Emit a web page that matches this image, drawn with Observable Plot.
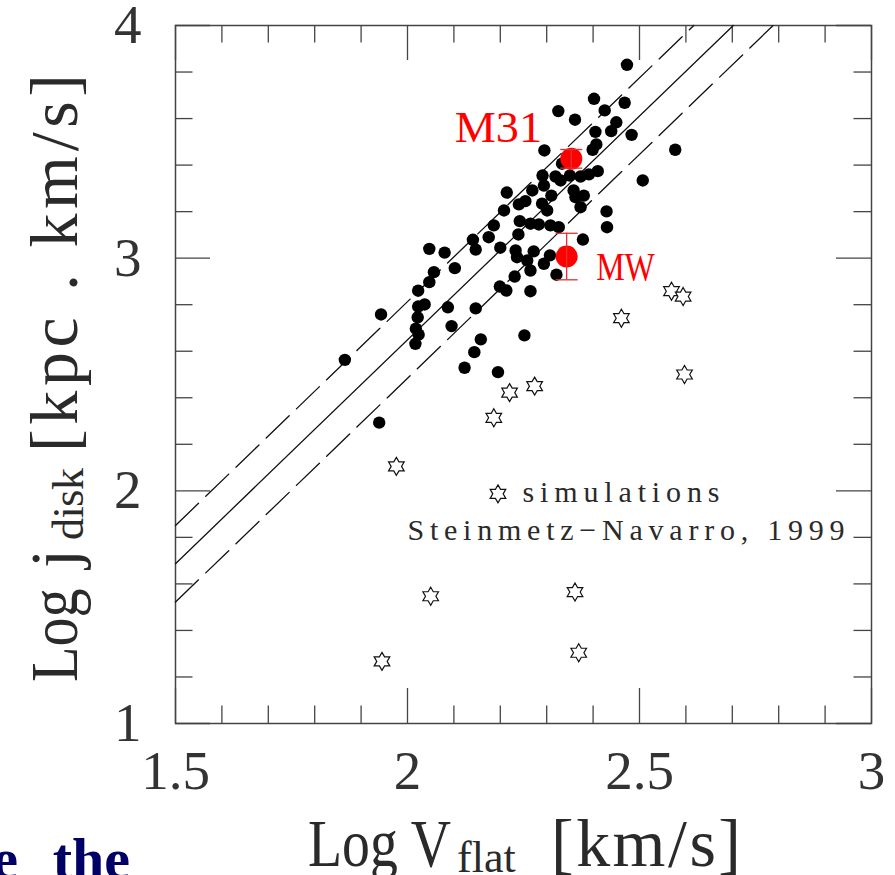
<!DOCTYPE html>
<html>
<head>
<meta charset="utf-8">
<script src="https://cdn.jsdelivr.net/npm/d3@7"></script>
<script src="https://cdn.jsdelivr.net/npm/@observablehq/plot@0.6"></script>
<style>
  html, body { margin: 0; padding: 0; background: #fff; }
  #chart svg { display: block; }
</style>
</head>
<body>
<div id="chart"></div>
<script>
// ---------------- data ----------------
const galaxyLogV = [
  2.473, 2.402, 2.468, 2.325, 2.361, 2.425, 2.450, 2.405, 2.439, 2.483,
  2.407, 2.399, 2.577, 2.295, 2.333, 2.291, 2.319, 2.330, 2.350, 2.373,
  2.391, 2.410, 2.507, 2.294, 2.269, 2.214, 2.310, 2.358, 2.362, 2.380,
  2.373, 2.429, 2.240, 2.254, 2.208, 2.290, 2.301, 2.186, 2.242, 2.265,
  2.283, 2.308, 2.326, 2.430, 2.239, 2.233, 2.236, 2.258, 2.272, 2.265,
  2.294, 2.307, 2.321, 2.231, 2.265, 2.252, 2.378, 2.175, 2.141, 2.147,
  2.200, 2.047, 2.080, 2.102, 2.057, 2.047, 2.023, 2.037, 2.023, 2.022,
  1.943, 2.087, 2.147, 2.199, 2.213, 2.018, 2.024, 2.017, 2.095, 2.158,
  2.144, 2.123, 2.195, 1.865, 1.939
];
const galaxyLogJ = [
  3.831, 3.685, 3.668, 3.632, 3.595, 3.635, 3.584, 3.543, 3.546, 3.530,
  3.489, 3.466, 3.466, 3.463, 3.406, 3.355, 3.351, 3.334, 3.355, 3.351,
  3.360, 3.374, 3.334, 3.312, 3.291, 3.282, 3.269, 3.291, 3.262, 3.269,
  3.219, 3.201, 3.231, 3.245, 3.205, 3.234, 3.205, 3.141, 3.159, 3.148,
  3.145, 3.141, 3.133, 3.133, 3.102, 3.033, 3.004, 2.990, 3.029, 2.947,
  2.976, 3.012, 2.929, 2.921, 2.858, 2.668, 3.080, 3.090, 3.079, 3.037,
  3.045, 3.040, 3.024, 2.957, 2.940, 2.897, 2.860, 2.801, 2.792, 2.746,
  2.758, 2.789, 2.784, 2.878, 2.861, 2.697, 2.671, 2.632, 2.708, 2.651,
  2.596, 2.529, 2.510, 2.563, 2.293
];
const simLogV = [2.569, 2.594, 2.461, 2.597, 2.220, 2.274, 2.186, 1.976, 2.050, 2.361, 1.945, 2.369];
const simLogJ = [2.858, 2.835, 2.742, 2.500, 2.422, 2.450, 2.314, 2.105, 1.547, 1.565, 1.267, 1.304];

const namedGalaxies = ["M31", "MW"];
const namedLogV = [2.353, 2.343];
const namedLogJ = [3.427, 3.007];
const namedErrJ = [0.04, 0.10];

const legendLogV = 2.195;
const legendLogJ = 1.987;
const legendLines = ["simulations", "Steinmetz\u2212Navarro, 1999"];

// parallel fit lines: log j = intercept + slope * (log V - 1.5)
const fitSlope = 1.924;
const fitIntercepts = [1.851, 1.687, 1.522];
const fitStyles = ["dashed", "solid", "dashed"];

const xMajor = [1.5, 2, 2.5, 3];
const xTickLabels = ["1.5", "2", "2.5", "3"];
const xMinor = [1.6, 1.7, 1.8, 1.9, 2.1, 2.2, 2.3, 2.4, 2.6, 2.7, 2.8, 2.9];
const yMajor = [1, 2, 3, 4];
const yTickLabels = ["1", "2", "3", "4"];
const yMinor = [1.2, 1.4, 1.6, 1.8, 2.2, 2.4, 2.6, 2.8, 3.2, 3.4, 3.6, 3.8];

// ---------------- tables ----------------
const galaxies = galaxyLogV.map((v, i) => ({v, j: galaxyLogJ[i]}));
const sims = simLogV.map((v, i) => ({v, j: simLogJ[i]}));
const named = namedGalaxies.map((name, i) => ({name, v: namedLogV[i], j: namedLogJ[i], e: namedErrJ[i]}));
const fits = fitIntercepts.flatMap((b, k) => [
  {k, v: 1.5, j: b},
  {k, v: 1.5 + (4 - b) / fitSlope, j: 4}
]);

// ---------------- symbols ----------------
const hexagram = {
  draw(context, size) {
    const R = Math.sqrt(size / Math.PI);
    const r = R / Math.sqrt(3);
    for (let i = 0; i < 12; i++) {
      const a = -Math.PI / 2 + i * Math.PI / 6;
      const rad = i % 2 ? r : R;
      const px = rad * Math.cos(a), py = rad * Math.sin(a);
      if (i) context.lineTo(px, py); else context.moveTo(px, py);
    }
    context.closePath();
  }
};
const capSymbol = {
  draw(context, size) {
    const R = Math.sqrt(size / Math.PI);
    context.moveTo(-R, 0);
    context.lineTo(R, 0);
  }
};

// ---------------- layout ----------------
const W = 895, H = 875, mT = 25, mL = 175, mR = 24, mB = 152;
const fw = W - mL - mR, fh = H - mT - mB;
const majorLen = 35, minorLen = 17.5;
const axisColor = "#444";
const red = "#ff0000";
const barRed = "#e23030";
const textColor = "#2a2a2a";

const chart = Plot.plot({
  width: W, height: H,
  marginTop: mT, marginLeft: mL, marginRight: mR, marginBottom: mB,
  style: {fontFamily: "'Liberation Serif', serif", fontSize: "55px", color: "#333", background: "#fff"},
  x: {domain: [1.5, 3], ticks: xMajor, tickSize: 0, tickPadding: 26,
      tickFormat: d => xTickLabels[xMajor.indexOf(d)], label: null},
  y: {domain: [1, 4], ticks: yMajor, tickSize: 0, tickPadding: 34,
      tickFormat: d => yTickLabels[yMajor.indexOf(d)], label: null},
  marks: [
    // ticks, inward on all four sides
    Plot.tickX(xMajor, {x: d => d, insetTop: fh - majorLen, stroke: axisColor, strokeWidth: 1.3}),
    Plot.tickX(xMajor, {x: d => d, insetBottom: fh - majorLen, stroke: axisColor, strokeWidth: 1.3}),
    Plot.tickX(xMinor, {x: d => d, insetTop: fh - minorLen, stroke: axisColor, strokeWidth: 1.3}),
    Plot.tickX(xMinor, {x: d => d, insetBottom: fh - minorLen, stroke: axisColor, strokeWidth: 1.3}),
    Plot.tickY(yMajor, {y: d => d, insetRight: fw - majorLen, stroke: axisColor, strokeWidth: 1.3}),
    Plot.tickY(yMajor, {y: d => d, insetLeft: fw - majorLen, stroke: axisColor, strokeWidth: 1.3}),
    Plot.tickY(yMinor, {y: d => d, insetRight: fw - minorLen, stroke: axisColor, strokeWidth: 1.3}),
    Plot.tickY(yMinor, {y: d => d, insetLeft: fw - minorLen, stroke: axisColor, strokeWidth: 1.3}),
    Plot.frame({stroke: axisColor, strokeWidth: 1.5}),
    // fit lines
    Plot.line(fits.filter(d => fitStyles[d.k] === "solid"),
      {x: "v", y: "j", z: "k", stroke: "#111", strokeWidth: 1.3}),
    Plot.line(fits.filter(d => fitStyles[d.k] === "dashed"),
      {x: "v", y: "j", z: "k", stroke: "#111", strokeWidth: 1.3, strokeDasharray: "32,10"}),
    // simulations
    Plot.dot(sims, {x: "v", y: "j", symbol: hexagram, r: 9, stroke: "#111", strokeWidth: 1.2, fill: "white"}),
    // observed galaxies
    Plot.dot(galaxies, {x: "v", y: "j", r: 6.2, fill: "#000", stroke: "none"}),
    // M31 and MW
    Plot.dot(named, {x: "v", y: "j", r: 11, fill: red, stroke: "none"}),
    Plot.ruleX(named, {x: "v", y1: d => d.j - d.e, y2: d => d.j + d.e, stroke: barRed, strokeWidth: 1.3}),
    Plot.dot(named, {x: "v", y: d => d.j - d.e, symbol: capSymbol, r: 11, stroke: barRed, strokeWidth: 1.3, fill: "none"}),
    Plot.dot(named, {x: "v", y: d => d.j + d.e, symbol: capSymbol, r: 11, stroke: barRed, strokeWidth: 1.3, fill: "none"}),
    // legend symbol
    Plot.dot([{v: legendLogV, j: legendLogJ}], {x: "v", y: "j", symbol: hexagram, r: 9, stroke: "#111", strokeWidth: 1.2, fill: "white"})
  ]
});

document.getElementById("chart").appendChild(chart);

// ---------------- annotations ----------------
const svg = d3.select(chart);
const sx = chart.scale("x"), sy = chart.scale("y");
const serif = "'Liberation Serif', serif";

// text with optional letter-spread (textLength) or horizontal condensing (scaleX)
function label(parent, str, x, y, size, opts = {}) {
  const g = parent.append("g")
    .attr("transform", `translate(${x},${y})` + (opts.scaleX ? ` scale(${opts.scaleX},1)` : ""));
  const t = g.append("text")
    .attr("x", 0).attr("y", 0)
    .attr("text-anchor", "start")
    .style("font-family", serif)
    .style("font-size", size + "px")
    .style("fill", opts.fill || textColor)
    .text(str);
  if (opts.length) t.attr("textLength", opts.length).attr("lengthAdjust", "spacing");
  return t;
}

// M31 / MW labels
const m31 = named[0], mw = named[1];
label(svg, m31.name, sx.apply(m31.v) - 116, sy.apply(m31.j) - 16, 44, {fill: red, scaleX: 1.05});
label(svg, mw.name, sx.apply(mw.v) + 30, sy.apply(mw.j) + 24, 40, {fill: red, scaleX: 0.8});

// legend text
const lx = sx.apply(legendLogV), ly = sy.apply(legendLogJ);
label(svg, legendLines[0], lx + 25, ly + 9, 30, {length: 197});
label(svg, legendLines[1], lx - 90, ly + 47, 30, {length: 437});

// x-axis title: Log V_flat [km/s]
const xt = svg.append("g");
label(xt, "Log V", 308, 866, 68, {scaleX: 0.82});
label(xt, "flat", 457, 872, 44);
label(xt, "[km/s]", 551, 866, 68, {length: 190});

// y-axis title: Log j_disk [kpc . km/s]  (rotated)
const yt = svg.append("g").attr("transform", "translate(77,0) rotate(-90)");
label(yt, "Log", -682, 0, 68, {scaleX: 0.855});
label(yt, "j", -568, 0, 68);
label(yt, "disk", -540, 6, 44, {length: 72});
label(yt, "[kpc . km/s]", -452, 0, 68, {length: 378});

// cut-off heading of the neighbouring slide
svg.append("text").attr("x", 18).attr("y", 878).attr("text-anchor", "end")
  .style("font-family", serif).style("font-weight", "bold").style("font-size", "58px")
  .style("fill", "#000066").text("e");
svg.append("text").attr("x", 130).attr("y", 878).attr("text-anchor", "end")
  .style("font-family", serif).style("font-weight", "bold").style("font-size", "58px")
  .style("fill", "#000066").text("the");
</script>
</body>
</html>
